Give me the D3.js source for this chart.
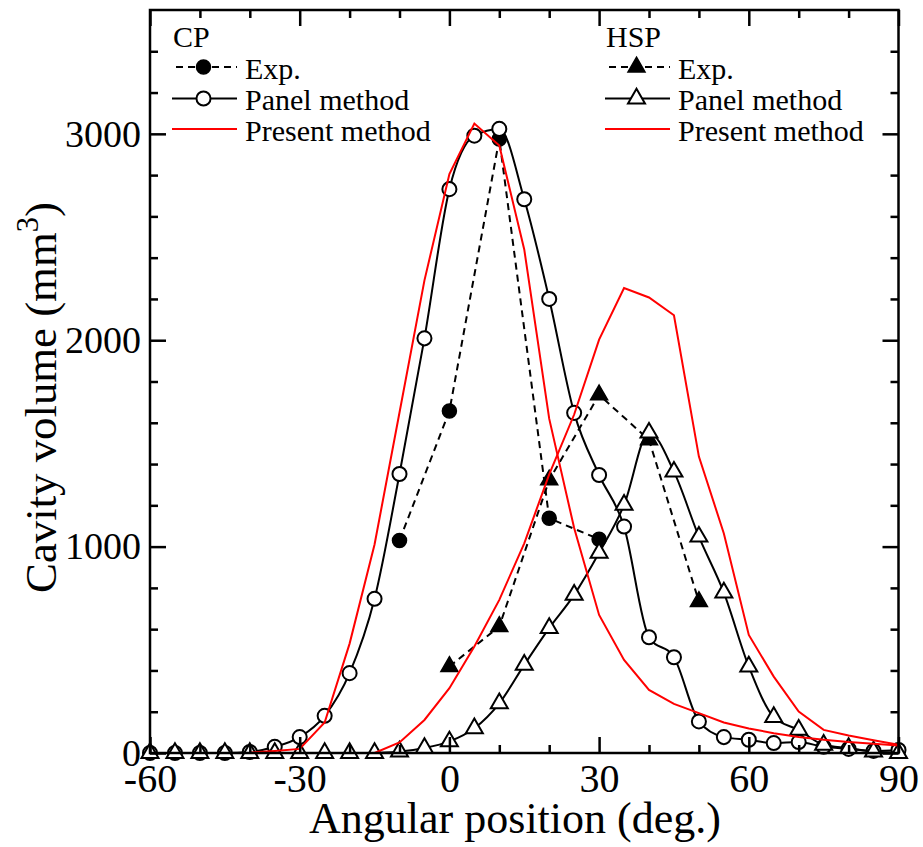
<!DOCTYPE html>
<html>
<head>
<meta charset="utf-8">
<script src="https://cdn.jsdelivr.net/npm/d3@7"></script>
<style>
  html, body { margin: 0; padding: 0; background: #fff; }
  svg text { font-family: "Liberation Serif", "Times New Roman", serif; fill: #000; }
</style>
</head>
<body>
<svg id="chart" width="923" height="847"></svg>
<script>
// ---- data ----
const panelAngles = [-60,-55,-50,-45,-40,-35,-30,-25,-20,-15,-10,-5,0,5,10,15,20,25,30,35,40,45,50,55,60,65,70,75,80,85,90];
const cpPanel  = [0,0,0,0,5,30,77,180,387,747,1352,2009,2732,2991,3024,2683,2200,1648,1347,1097,561,464,153,77,64,48,53,30,20,10,15];
const hspPanel = [0,0,0,0,0,0,0,0,0,0,7,24,56,120,241,427,605,766,970,1202,1552,1363,1048,777,419,174,112,40,24,7,0];

const presentAngles = [-40,-35,-30,-25,-20,-15,-10,-5,0,5,10,15,20,25,30,35,40,45,50,55,60,65,70,75,80,85,90];
const cpPresent  = [2,10,20,148,530,1010,1650,2290,2805,3050,2943,2440,1620,1090,669,451,306,238,193,148,119,96,77,64,53,45,36];
const hspPresent = [0,0,0,0,0,0,51,160,314,516,742,1016,1350,1640,2003,2253,2207,2121,1436,1064,572,370,201,112,85,62,40];

const cpExpAngles  = [-10,0,10,20,30];
const cpExp        = [1030,1657,2975,1137,1036];
const hspExpAngles = [0,10,20,30,40,50];
const hspExp       = [419,613,1323,1735,1517,734];

const xMajorTicks = [-60,-30,0,30,60,90];
const xMinorTicks = [-50,-40,-20,-10,10,20,40,50,70,80];
const yMajorTicks = [0,1000,2000,3000];
const yMinorTicks = [200,400,600,800,1200,1400,1600,1800,2200,2400,2600,2800,3200,3400];

const xLabel = "Angular position (deg.)";
const yLabel = "Cavity volume (mm";
const yLabelSup = "3";
const yLabelEnd = ")";

// ---- layout ----
const svg = d3.select("#chart");
const L = 150, R = 898.5, T = 10, B = 753;
const x = d3.scaleLinear().domain([-60, 90]).range([L, R]);
const y = d3.scaleLinear().domain([0, 3600]).range([B, T]);

const zip = (xs, ys) => xs.map((a, i) => [a, ys[i]]);

const straight = d3.line().x(d => x(d[0])).y(d => y(d[1]));
const smooth = d3.line().x(d => x(d[0])).y(d => y(d[1])).curve(d3.curveMonotoneX);

const circleSym = d3.symbol().type(d3.symbolCircle).size(155);
const triSym = d3.symbol().type(d3.symbolTriangle).size(125);

const plot = svg.append("g");

// CP exp (dashed, filled circles)
plot.append("path").attr("d", straight(zip(cpExpAngles, cpExp)))
  .attr("fill", "none").attr("stroke", "#000").attr("stroke-width", 2).attr("stroke-dasharray", "7,5");
// HSP exp (dashed, filled triangles)
plot.append("path").attr("d", straight(zip(hspExpAngles, hspExp)))
  .attr("fill", "none").attr("stroke", "#000").attr("stroke-width", 2).attr("stroke-dasharray", "7,5");
plot.selectAll(".cpexp").data(zip(cpExpAngles, cpExp)).enter().append("path")
  .attr("d", circleSym).attr("transform", d => `translate(${x(d[0])},${y(d[1])})`)
  .attr("fill", "#000").attr("stroke", "#000").attr("stroke-width", 1.5);
plot.selectAll(".hspexp").data(zip(hspExpAngles, hspExp)).enter().append("path")
  .attr("d", triSym).attr("transform", d => `translate(${x(d[0])},${y(d[1])})`)
  .attr("fill", "#000").attr("stroke", "#000").attr("stroke-width", 1.5);

// CP panel
plot.append("path").attr("d", smooth(zip(panelAngles, cpPanel)))
  .attr("fill", "none").attr("stroke", "#000").attr("stroke-width", 2);
plot.selectAll(".cppanel").data(zip(panelAngles, cpPanel)).enter().append("path")
  .attr("d", circleSym).attr("transform", d => `translate(${x(d[0])},${y(d[1])})`)
  .attr("fill", "#fff").attr("stroke", "#000").attr("stroke-width", 2);
// HSP panel
plot.append("path").attr("d", smooth(zip(panelAngles, hspPanel)))
  .attr("fill", "none").attr("stroke", "#000").attr("stroke-width", 2);
plot.selectAll(".hsppanel").data(zip(panelAngles, hspPanel)).enter().append("path")
  .attr("d", triSym).attr("transform", d => `translate(${x(d[0])},${y(d[1])})`)
  .attr("fill", "#fff").attr("stroke", "#000").attr("stroke-width", 2);

// Present method (red)
plot.append("path").attr("d", straight(zip(presentAngles, cpPresent)))
  .attr("fill", "none").attr("stroke", "#ff0000").attr("stroke-width", 2);
plot.append("path").attr("d", straight(zip(presentAngles, hspPresent)))
  .attr("fill", "none").attr("stroke", "#ff0000").attr("stroke-width", 2);

// ---- frame and ticks ----
const axG = svg.append("g");
axG.append("rect").attr("x", L).attr("y", T).attr("width", R - L).attr("height", B - T)
  .attr("fill", "none").attr("stroke", "#000").attr("stroke-width", 2.5);

const fmt = d => String(d);
const bottomAxis = axG.append("g").attr("transform", `translate(0,${B})`)
  .call(d3.axisBottom(x).tickValues(xMajorTicks).tickSize(-16).tickPadding(11).tickFormat(fmt));
axG.append("g").attr("transform", `translate(0,${B})`)
  .call(d3.axisBottom(x).tickValues(xMinorTicks).tickSize(-8).tickFormat(""));
axG.append("g").attr("transform", `translate(0,${T})`)
  .call(d3.axisTop(x).tickValues(xMajorTicks).tickSize(-16).tickFormat(""));
axG.append("g").attr("transform", `translate(0,${T})`)
  .call(d3.axisTop(x).tickValues(xMinorTicks).tickSize(-8).tickFormat(""));
const leftAxis = axG.append("g").attr("transform", `translate(${L},0)`)
  .call(d3.axisLeft(y).tickValues(yMajorTicks).tickSize(-16).tickPadding(9).tickFormat(fmt));
axG.append("g").attr("transform", `translate(${L},0)`)
  .call(d3.axisLeft(y).tickValues(yMinorTicks).tickSize(-8).tickFormat(""));
axG.append("g").attr("transform", `translate(${R},0)`)
  .call(d3.axisRight(y).tickValues(yMajorTicks).tickSize(-16).tickFormat(""));
axG.append("g").attr("transform", `translate(${R},0)`)
  .call(d3.axisRight(y).tickValues(yMinorTicks).tickSize(-8).tickFormat(""));

axG.selectAll(".domain").remove();
axG.selectAll(".tick line").attr("stroke", "#000").attr("stroke-width", 2.5);
bottomAxis.selectAll("text").attr("font-size", 40).attr("fill", "#000");
leftAxis.selectAll("text").attr("font-size", 38).attr("fill", "#000");

// axis titles
const xt = svg.append("text").attr("x", 515).attr("y", 833).attr("text-anchor", "middle")
  .attr("font-size", 44).text(xLabel);
const yt = svg.append("text").attr("text-anchor", "middle").attr("font-size", 44);
yt.append("tspan").text(yLabel);
yt.append("tspan").attr("font-size", 30).attr("dy", -18).text(yLabelSup);
yt.append("tspan").attr("dy", 18).text(yLabelEnd);
// fit the rotated title to the span seen in the reference (y 202..593)
(function fit() {
  const target = 391;
  const len = yt.node().getBBox().width;
  if (len > 0) {
    const s = 44 * target / len;
    yt.attr("font-size", s);
    yt.select("tspan:nth-child(2)").attr("font-size", s * 30 / 44).attr("dy", -s * 18 / 44);
    yt.select("tspan:nth-child(3)").attr("dy", s * 18 / 44);
  }
  yt.attr("transform", "translate(56,397.5) rotate(-90)");
})();

// ---- legends ----
function legend(x0, title, markerType) {
  const g = svg.append("g");
  const xl1 = x0, xl2 = x0 + 65, xm = x0 + 31.5, xt = x0 + 73;
  const rows = [78.5, 110, 140.5];
  g.append("text").attr("x", x0 + 1).attr("y", 46.5).attr("font-size", 30).text(title);
  const labels = ["Exp.", "Panel method", "Present method"];
  rows.forEach((by, i) => {
    const ly = by - 11.5;
    const line = g.append("line").attr("x1", xl1).attr("x2", xl2).attr("y1", ly).attr("y2", ly)
      .attr("stroke-width", 2);
    if (i === 0) line.attr("stroke", "#000").attr("stroke-dasharray", "7,5").attr("stroke-dashoffset", -4);
    else if (i === 1) line.attr("stroke", "#000");
    else line.attr("stroke", "#ff0000");
    if (i < 2) {
      g.append("path").attr("d", markerType === "circle" ? circleSym() : triSym())
        .attr("transform", `translate(${xm},${ly})`)
        .attr("fill", i === 0 ? "#000" : "#fff").attr("stroke", "#000").attr("stroke-width", i === 0 ? 1.5 : 2);
    }
    g.append("text").attr("x", xt).attr("y", by).attr("font-size", 30).text(labels[i]);
  });
}
legend(172, "CP", "circle");
legend(605, "HSP", "triangle");
</script>
</body>
</html>
